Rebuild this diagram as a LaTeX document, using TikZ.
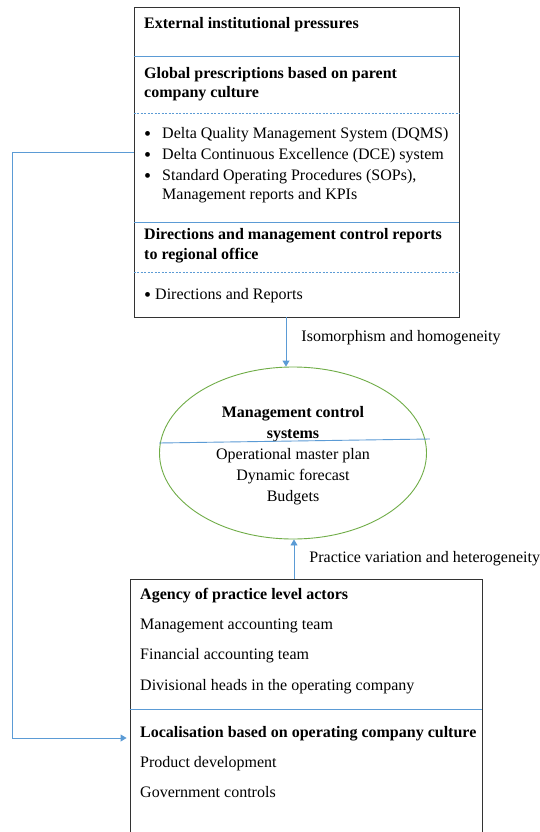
\documentclass[tikz,border=0pt]{standalone}
\usepackage{fontspec}
\setmainfont{Liberation Serif}
\usetikzlibrary{shapes.geometric, arrows.meta}
\definecolor{linkblue}{RGB}{91,155,213}
\definecolor{mcsgreen}{RGB}{112,173,71}
\newcommand{\dotmark}{\raisebox{-1.6pt}{\fontsize{20}{20}\selectfont\textbullet}}

\begin{document}
\begin{tikzpicture}[x=1pt, y=-1pt,
    panel/.style={rectangle, draw=black!80, line width=0.9pt, inner sep=0pt},
    mcsnode/.style={ellipse, draw=mcsgreen, line width=0.9pt, inner sep=0pt, minimum width=267pt, minimum height=172pt, align=center, font=\fontsize{16}{21}\selectfont},
    txt/.style={anchor=west, inner sep=0pt, text height=13pt, text depth=2pt, font=\fontsize{16}{19}\selectfont},
    head/.style={txt, font=\fontsize{16}{19}\selectfont\bfseries},
    split/.style={draw=linkblue, line width=0.9pt},
    subsplit/.style={draw=linkblue, line width=0.8pt, dash pattern=on 2pt off 1.5pt},
    flow/.style={draw=linkblue, line width=0.9pt, -{Triangle[length=6pt, width=7pt]}},
    note/.style={anchor=west, inner sep=0pt, font=\fontsize{16}{19}\selectfont}
]
    \clip (0,0) rectangle (539,832);
    \fill[white] (0,0) rectangle (539,832);

    % Parent company panel
    \node[panel, minimum width=325pt, minimum height=310pt] (top) at (296.5,162) {};
    \node[head] (ext) at (144,23) {External institutional pressures};
    \node[head] (glob) at (144,73) {Global prescriptions based on parent};
    \node[head] (globb) at (144,92) {company culture};
    \node[txt] (dqms) at (162,133) {\llap{\dotmark\hspace{11pt}}Delta Quality Management System (DQMS)};
    \node[txt] (dce) at (162,154) {\llap{\dotmark\hspace{11pt}}Delta Continuous Excellence (DCE) system};
    \node[txt] (sops) at (162,175) {\llap{\dotmark\hspace{11pt}}Standard Operating Procedures (SOPs),};
    \node[txt] (kpis) at (162,194) {Management reports and KPIs};
    \node[head] (dir) at (144,234) {Directions and management control reports};
    \node[head] (dirb) at (144,254) {to regional office};
    \node[txt] (rep) at (144,294) {\dotmark{} Directions and Reports};

    \draw[split] ([yshift=-50pt]top.north west) -- ([yshift=-50pt]top.north east);
    \draw[subsplit] ([yshift=-107pt]top.north west) -- ([yshift=-107pt]top.north east);
    \draw[split] ([yshift=-216pt]top.north west) -- ([yshift=-216pt]top.north east);
    \draw[subsplit] ([yshift=-266pt]top.north west) -- ([yshift=-266pt]top.north east);

    % Management control systems
    \node[mcsnode] (mcs) at (293,453) {\rule{0pt}{17pt}\textbf{Management control}\\\textbf{systems}\\Operational master plan\\Dynamic forecast\\Budgets};
    \draw[split] ([yshift=10pt]mcs.west) -- ([xshift=3pt, yshift=14pt]mcs.east);

    % Operating company panel
    \node[panel, minimum width=352pt, minimum height=301pt] (bot) at (306,729.5) {};
    \node[head] (agency) at (140,594) {Agency of practice level actors};
    \node[txt] (mat) at (140,624) {Management accounting team};
    \node[txt] (fat) at (140,654) {Financial accounting team};
    \node[txt] (div) at (140,685) {Divisional heads in the operating company};
    \node[head] (loc) at (140,732) {Localisation based on operating company culture};
    \node[txt] (prod) at (140,762) {Product development};
    \node[txt] (gov) at (140,792) {Government controls};
    \draw[split] ([yshift=-131pt]bot.north west) -- ([yshift=-131pt]bot.north east);

    % Connectors
    \draw[flow] ([xshift=-10.5pt]top.south) -- ([xshift=-10.5pt]top.south |- mcs.north)
        node[note, midway, xshift=15pt, yshift=4pt] {Isomorphism and homogeneity};
    \draw[flow] ([xshift=-12pt]bot.north) -- ([xshift=-12pt]bot.north |- mcs.south)
        node[note, midway, xshift=15pt] {Practice variation and heterogeneity};

    \coordinate (rail) at (12,450);
    \draw[flow, shorten >=3pt] ([yshift=10pt]top.west) -- ([yshift=10pt]top.west -| rail)
        -- ([yshift=-8.5pt]bot.west -| rail) -- ([yshift=-8.5pt]bot.west);
\end{tikzpicture}
\end{document}
